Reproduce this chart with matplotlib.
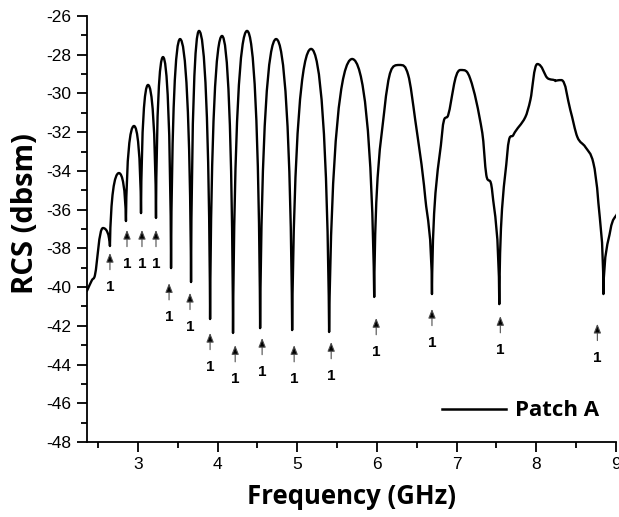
import matplotlib
matplotlib.use("Agg")
import matplotlib.pyplot as plt
from matplotlib.path import Path
from matplotlib.patches import PathPatch
from matplotlib.lines import Line2D

plt.rcParams["axes.unicode_minus"] = False

# ---- data (frequency in GHz, RCS in dBsm) ----
freq = [2.359, 2.422, 2.460, 2.560, 2.648, 2.761, 2.849, 2.950, 3.038,
        3.126, 3.226, 3.314, 3.415, 3.528, 3.666, 3.766, 3.905, 4.055, 4.193,
        4.369, 4.533, 4.734, 4.935, 5.173, 5.399, 5.688, 5.965, 6.090, 6.279,
        6.392, 6.480, 6.606, 6.690, 6.819, 6.894, 7.045, 7.171, 7.322, 7.372,
        7.447, 7.535, 7.636, 7.711, 7.862, 7.925, 8.013, 8.138, 8.239, 8.314,
        8.427, 8.515, 8.616, 8.716, 8.779, 8.842, 8.930, 9.018]
rcs = [-40.20, -39.64, -39.38, -36.95, -37.88, -34.11, -36.59, -31.68, -36.18,
       -29.56, -36.43, -28.12, -39.02, -27.19, -39.74, -26.77, -41.65, -27.03, -42.37,
       -26.77, -42.12, -27.19, -42.22, -27.70, -42.32, -28.22, -40.51, -30.96, -28.53,
       -29.05, -31.37, -35.40, -40.36, -31.99, -31.11, -28.79, -29.25, -32.04, -34.21,
       -35.09, -40.88, -33.08, -32.15, -31.22, -30.34, -28.48, -29.20, -29.36, -29.31,
       -30.86, -32.25, -32.77, -33.59, -35.66, -40.36, -37.05, -36.18]

arrow_freq = [2.648, 2.862, 3.050, 3.226, 3.390, 3.653, 3.905, 4.220, 4.558, 4.960,
              5.425, 5.990, 6.690, 7.548, 8.766]
arrow_tip = [-38.24, -37.05, -37.05, -37.05, -39.80, -40.30, -42.37, -43.00, -42.63, -43.00,
             -42.84, -41.60, -41.13, -41.50, -41.90]
arrow_text = ["1"] * 15

x_ticks = [3, 4, 5, 6, 7, 8, 9]
y_ticks = list(range(-48, -25, 2))
series_name = "Patch A"
x_label = "Frequency (GHz)"
y_label = "RCS (dbsm)"


def smooth_path(x, y):
    n = len(x)
    kind = []
    for i in range(n):
        if 0 < i < n - 1 and y[i] > y[i - 1] and y[i] > y[i + 1]:
            kind.append("max")
        elif 0 < i < n - 1 and y[i] < y[i - 1] and y[i] < y[i + 1]:
            kind.append("min")
        else:
            kind.append("mid")

    def slope(i):
        lo, hi = max(i - 1, 0), min(i + 1, n - 1)
        return (y[hi] - y[lo]) / (x[hi] - x[lo])

    verts = [(x[0], y[0])]
    codes = [Path.MOVETO]
    for i in range(n - 1):
        j = i + 1
        dx, dy = x[j] - x[i], y[j] - y[i]
        if kind[i] == "max":
            c1 = (x[i] + 0.5 * dx, y[i])
        elif kind[i] == "min":
            c1 = (x[i] + 0.1 * dx, y[i] + 0.7 * dy)
        else:
            m = slope(i)
            c1 = (x[i] + dx / 3, y[i] + m * dx / 3)
        if kind[j] == "max":
            c2 = (x[j] - 0.5 * dx, y[j])
        elif kind[j] == "min":
            c2 = (x[j] - 0.1 * dx, y[j] - 0.7 * dy)
        else:
            m = slope(j)
            c2 = (x[j] - dx / 3, y[j] - m * dx / 3)
        verts += [c1, c2, (x[j], y[j])]
        codes += [Path.CURVE4] * 3
    return Path(verts, codes)


fig = plt.figure(figsize=(6.19, 5.17), dpi=100)
ax = fig.add_axes([87 / 619, 1 - 442 / 517, 529 / 619, 426 / 517])

patch = PathPatch(smooth_path(freq, rcs), facecolor="none", edgecolor="black",
                  lw=1.7, capstyle="round", joinstyle="round")
ax.add_patch(patch)

ax.set_xlim(2.36, 9.0)
ax.set_ylim(-48, -26)

for xa, ya, t in zip(arrow_freq, arrow_tip, arrow_text):
    ax.annotate("", xy=(xa, ya), xytext=(0, -12), textcoords="offset points",
                arrowprops=dict(arrowstyle="-|>,head_length=0.55,head_width=0.22",
                                fc="black", ec="0.3", lw=0.8, shrinkA=0, shrinkB=0))
    ax.annotate(t, xy=(xa, ya), xytext=(0, -24.5), textcoords="offset points",
                ha="center", va="center", fontsize=11, fontweight="bold",
                family="Liberation Sans")

for s in ["top", "right"]:
    ax.spines[s].set_visible(False)
for s in ["left", "bottom"]:
    ax.spines[s].set_linewidth(1.3)

ax.set_xticks(x_ticks)
ax.set_yticks(y_ticks)
ax.set_xticks([v + 0.5 for v in range(2, 9)], minor=True)
ax.set_yticks(list(range(-47, -26, 2)), minor=True)
ax.tick_params(which="major", direction="out", length=7, width=1.3, labelsize=12.5, pad=4)
ax.tick_params(which="minor", direction="out", length=4, width=1.3)
for lab in ax.get_xticklabels() + ax.get_yticklabels():
    lab.set_family("Liberation Sans")

ax.set_xlabel(x_label, fontsize=18.5, fontweight="bold", family="Open Sans", labelpad=8)
ax.set_ylabel(y_label, fontsize=21, fontweight="bold", family="Open Sans")
ax.yaxis.set_label_coords(-0.089, 0.537)

handle = Line2D([], [], color="black", lw=1.8)
leg = ax.legend([handle], [series_name], loc="center right",
                bbox_to_anchor=(0.968, 0.073), frameon=False, borderpad=0,
                borderaxespad=0, handlelength=2.9, handletextpad=0.4,
                prop=dict(family="Open Sans", weight="bold", size=16))

fig.savefig("out.png", dpi=100)
